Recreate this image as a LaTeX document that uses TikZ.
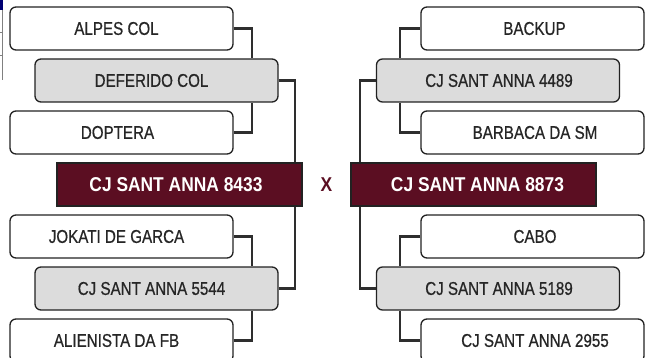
\documentclass[tikz,border=0pt]{standalone}
\usepackage{fontspec}
\newfontfamily\condfont[FakeStretch=0.82,FakeBold=0.6]{Liberation Sans}
\newfontfamily\condbold[FakeStretch=0.87]{Liberation Sans}
\definecolor{maroon}{HTML}{5B0E22}
\definecolor{boxgray}{HTML}{DCDCDC}
\definecolor{edge}{HTML}{222222}
\definecolor{wire}{HTML}{2E2E2E}
\newcommand\shifttext[2]{\makebox[0pt]{\hspace*{#1}#2}}
\begin{document}
\begin{tikzpicture}[x=1pt,y=-1pt,
  basebox/.style={draw=edge, line width=1.3pt, rounded corners=6pt, minimum height=43pt, inner sep=0pt,
    font=\condfont\fontsize{18.5}{20}\selectfont, text=black!85},
  wbox/.style={basebox, fill=white, minimum width=223pt},
  gbox/.style={basebox, fill=boxgray, minimum width=243pt},
  mbox/.style={draw=edge, line width=1.3pt, fill=maroon, minimum width=245pt, minimum height=43pt, inner sep=0pt,
    font=\condbold\bfseries\fontsize{20}{22}\selectfont, text=white},
  conn/.style={draw=wire, line width=2.4pt, line join=miter}]
\clip (0,0) rectangle (653,358);
\fill[white] (0,0) rectangle (653,358);
% small cropped artifact at top-left
\fill[blue!45!black] (0,0) rectangle (3,10);
\draw[gray, line width=0.8pt] (2.6,10) -- (2.6,80) (0,32) -- (2.6,32) (0,55) -- (2.6,55);
% left column
\node[wbox] (alpes) at (121.5,28.5) {\shifttext{-10pt}{ALPES COL}};
\node[gbox] (deferido) at (156.5,80.5) {\shifttext{-10pt}{DEFERIDO COL}};
\node[wbox] (doptera) at (121.5,132.5) {\shifttext{-8pt}{DOPTERA}};
\node[mbox] (m1) at (179.5,184.5) {\shifttext{-7pt}{CJ SANT ANNA 8433}};
\node[wbox] (jokati) at (121.5,236.5) {\shifttext{-10pt}{JOKATI DE GARCA}};
\node[gbox] (c5544) at (156.5,288.5) {\shifttext{-10pt}{CJ SANT ANNA 5544}};
\node[wbox] (alien) at (121.5,340.5) {\shifttext{-10pt}{ALIENISTA DA FB}};
% right column
\node[wbox] (backup) at (532.5,28.5) {\shifttext{4pt}{BACKUP}};
\node[gbox] (c4489) at (498,80.5) {\shifttext{2pt}{CJ SANT ANNA 4489}};
\node[wbox] (barbaca) at (532.5,132.5) {\shifttext{5pt}{BARBACA DA SM}};
\node[mbox] (m2) at (473.5,184.5) {\shifttext{8pt}{CJ SANT ANNA 8873}};
\node[wbox] (cabo) at (532.5,236.5) {\shifttext{5pt}{CABO}};
\node[gbox] (c5189) at (498,288.5) {\shifttext{2pt}{CJ SANT ANNA 5189}};
\node[wbox] (c2955) at (532.5,340.5) {\shifttext{5pt}{CJ SANT ANNA 2955}};
% versus
\node[font=\condbold\bfseries\fontsize{20}{22}\selectfont, text=maroon, inner sep=0pt] (vs) at (326.5,185) {X};
% bracket columns
\coordinate (xa) at (252,0);
\coordinate (xb) at (295,0);
\coordinate (xc) at (400,0);
\coordinate (xd) at (360,0);
% left connectors
\draw[conn] (alpes.east) -| (deferido.north -| xa);
\draw[conn] (doptera.east) -| (deferido.south -| xa);
\draw[conn] (deferido.east) -| (m1.north -| xb);
\draw[conn] (jokati.east) -| (c5544.north -| xa);
\draw[conn] (alien.east) -| (c5544.south -| xa);
\draw[conn] (c5544.east) -| (m1.south -| xb);
% right connectors
\draw[conn] (backup.west) -| (c4489.north -| xc);
\draw[conn] (barbaca.west) -| (c4489.south -| xc);
\draw[conn] (c4489.west) -| (m2.north -| xd);
\draw[conn] (cabo.west) -| (c5189.north -| xc);
\draw[conn] (c2955.west) -| (c5189.south -| xc);
\draw[conn] (c5189.west) -| (m2.south -| xd);
\end{tikzpicture}
\end{document}
